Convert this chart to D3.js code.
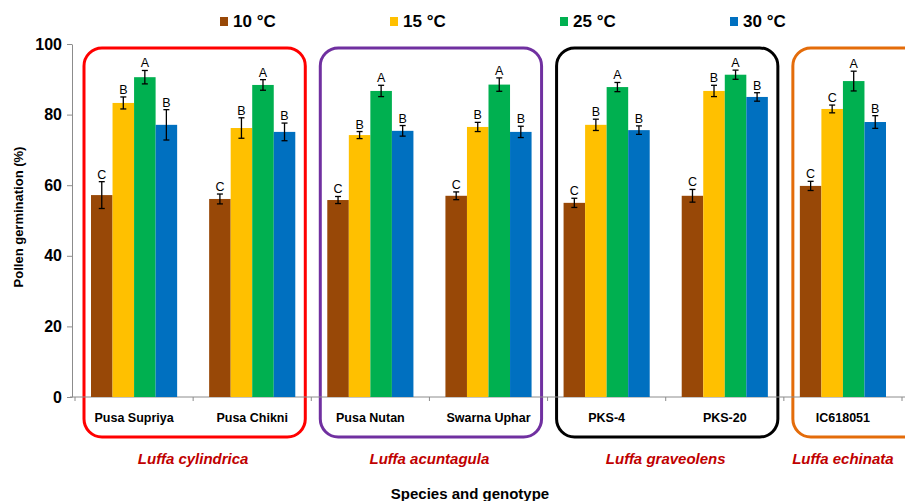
<!DOCTYPE html>
<html>
<head>
<meta charset="utf-8">
<script src="https://cdn.jsdelivr.net/npm/d3@7"></script>
<style>
	body { margin: 0; background: #fff; }
	svg { display: block; font-family: "Liberation Sans", Arial, sans-serif; }
	.axis path, .axis line { stroke: #8c8c8c; }
</style>
</head>
<body>
<div id="chart"></div>
<script>
// Data
const genotypes = ["Pusa Supriya", "Pusa Chikni", "Pusa Nutan", "Swarna Uphar", "PKS-4", "PKS-20", "IC618051"];
const temps = ["10 °C", "15 °C", "25 °C", "30 °C"];
const colors = ["#984807", "#FFC000", "#00B050", "#0070C0"];

// germination (%) per temperature, in genotype order
const mean10 = [57.2, 56.1, 55.8, 57.0, 55.0, 57.0, 59.8];
const mean15 = [83.3, 76.2, 74.2, 76.5, 77.1, 86.7, 81.6];
const mean25 = [90.6, 88.4, 86.7, 88.5, 87.8, 91.3, 89.5];
const mean30 = [77.1, 75.1, 75.4, 75.1, 75.6, 85.0, 77.9];

const err10 = [3.8, 1.4, 1.0, 1.1, 1.3, 1.8, 1.3];
const err15 = [1.7, 2.9, 1.0, 1.3, 1.6, 1.6, 1.1];
const err25 = [1.9, 1.5, 1.6, 1.9, 1.3, 1.3, 2.8];
const err30 = [4.3, 2.5, 1.5, 1.6, 1.2, 1.2, 1.8];

const letters10 = ["C", "C", "C", "C", "C", "C", "C"];
const letters15 = ["B", "B", "B", "B", "B", "B", "C"];
const letters25 = ["A", "A", "A", "A", "A", "A", "A"];
const letters30 = ["B", "B", "B", "B", "B", "B", "B"];

const species = ["Luffa cylindrica", "Luffa acuntagula", "Luffa graveolens", "Luffa echinata"];
const speciesMembers = [["Pusa Supriya", "Pusa Chikni"], ["Pusa Nutan", "Swarna Uphar"], ["PKS-4", "PKS-20"], ["IC618051"]];
const speciesColors = ["#FF0000", "#7030A0", "#000000", "#E46C0A"];

const yTicks = [0, 20, 40, 60, 80, 100];

const means = [mean10, mean15, mean25, mean30];
const errs = [err10, err15, err25, err30];
const letters = [letters10, letters15, letters25, letters30];

let rows = [];
genotypes.forEach((g, gi) => {
	temps.forEach((t, ti) => {
		rows.push({ genotype: g, temp: t, ti: ti, value: means[ti][gi], err: errs[ti][gi], letter: letters[ti][gi] });
	});
});

const width = 905, height = 501;
const margin = { top: 44, right: 3, bottom: 104, left: 75 };

const svg = d3.select("#chart").append("svg")
	.attr("width", width)
	.attr("height", height);

// Scales
const x0 = d3.scaleBand()
	.domain(genotypes)
	.range([margin.left, width - margin.right])
	.padding(0);

const barPad = 16;
const x1 = d3.scaleBand()
	.domain(temps)
	.range([barPad, x0.bandwidth() - barPad])
	.padding(0);

const y = d3.scaleLinear()
	.domain([0, 100])
	.range([height - margin.bottom, margin.top]);

const color = d3.scaleOrdinal().domain(temps).range(colors);

// Species boxes (drawn first, behind the bars)
species.forEach((s, si) => {
	let members = speciesMembers[si];
	let left = x0(members[0]) + 9;
	let right = si === species.length - 1 ? width + 20 : x0(members[members.length - 1]) + x0.bandwidth() - 6;
	svg.append("rect")
		.attr("x", left)
		.attr("y", 48)
		.attr("width", right - left)
		.attr("height", 389)
		.attr("rx", 18)
		.attr("fill", "none")
		.attr("stroke", speciesColors[si])
		.attr("stroke-width", 3);

	let center = d3.mean(members, m => x0(m) + x0.bandwidth() / 2);
	svg.append("text")
		.attr("x", center)
		.attr("y", 464)
		.attr("text-anchor", "middle")
		.attr("font-size", 15)
		.attr("font-weight", "bold")
		.attr("font-style", "italic")
		.attr("fill", "#C00000")
		.text(s);
});

// Axes
const yAxis = d3.axisLeft(y).tickValues(yTicks).tickSize(5).tickSizeOuter(0);
svg.append("g")
	.attr("class", "axis y-axis")
	.attr("transform", "translate(72,0)")
	.call(yAxis)
	.call(g => g.selectAll("text")
		.attr("font-size", 16)
		.attr("font-weight", "bold")
		.attr("fill", "#000")
		.attr("x", -10)
		.style("font-family", "Liberation Sans, Arial, sans-serif"));

// x axis line with ticks at category boundaries
const xg = svg.append("g").attr("class", "axis x-axis");
xg.append("line")
	.attr("x1", 70).attr("x2", width)
	.attr("y1", y(0)).attr("y2", y(0));
xg.selectAll(".xtick")
	.data(genotypes.concat(["end"]))
	.join("line")
	.attr("class", "xtick")
	.attr("x1", (d, i) => i < genotypes.length ? x0(d) : x0(genotypes[i - 1]) + x0.bandwidth())
	.attr("x2", (d, i) => i < genotypes.length ? x0(d) : x0(genotypes[i - 1]) + x0.bandwidth())
	.attr("y1", y(0))
	.attr("y2", y(0) + 4);

// Bars
const groups = svg.selectAll(".group")
	.data(genotypes)
	.join("g")
	.attr("class", "group")
	.attr("transform", d => "translate(" + x0(d) + ",0)");

groups.selectAll("rect")
	.data(g => rows.filter(r => r.genotype === g))
	.join("rect")
	.attr("x", d => x1(d.temp))
	.attr("y", d => y(d.value))
	.attr("width", x1.bandwidth())
	.attr("height", d => y(0) - y(d.value))
	.attr("fill", d => color(d.temp));

// Error bars
const eb = groups.selectAll(".err")
	.data(g => rows.filter(r => r.genotype === g))
	.join("g")
	.attr("class", "err")
	.attr("stroke", "#000")
	.attr("stroke-width", 1.3);

eb.append("line")
	.attr("x1", d => x1(d.temp) + x1.bandwidth() / 2)
	.attr("x2", d => x1(d.temp) + x1.bandwidth() / 2)
	.attr("y1", d => y(d.value + d.err))
	.attr("y2", d => y(d.value - d.err));
eb.append("line")
	.attr("x1", d => x1(d.temp) + x1.bandwidth() / 2 - 3)
	.attr("x2", d => x1(d.temp) + x1.bandwidth() / 2 + 3)
	.attr("y1", d => y(d.value + d.err))
	.attr("y2", d => y(d.value + d.err));
eb.append("line")
	.attr("x1", d => x1(d.temp) + x1.bandwidth() / 2 - 3)
	.attr("x2", d => x1(d.temp) + x1.bandwidth() / 2 + 3)
	.attr("y1", d => y(d.value - d.err))
	.attr("y2", d => y(d.value - d.err));

// Significance letters
groups.selectAll(".letter")
	.data(g => rows.filter(r => r.genotype === g))
	.join("text")
	.attr("class", "letter")
	.attr("x", d => x1(d.temp) + x1.bandwidth() / 2)
	.attr("y", d => y(d.value + d.err) - 3)
	.attr("text-anchor", "middle")
	.attr("font-size", 12.5)
	.attr("fill", "#000")
	.text(d => d.letter);

// Genotype labels
svg.selectAll(".glabel")
	.data(genotypes)
	.join("text")
	.attr("class", "glabel")
	.attr("x", d => x0(d) + x0.bandwidth() / 2)
	.attr("y", 422)
	.attr("text-anchor", "middle")
	.attr("font-size", 12.5)
	.attr("font-weight", "bold")
	.text(d => d);

// Axis titles
svg.append("text")
	.attr("transform", "translate(23,217) rotate(-90)")
	.attr("text-anchor", "middle")
	.attr("font-size", 13)
	.attr("font-weight", "bold")
	.text("Pollen germination (%)");

svg.append("text")
	.attr("x", 470)
	.attr("y", 499)
	.attr("text-anchor", "middle")
	.attr("font-size", 15)
	.attr("font-weight", "bold")
	.text("Species and genotype");

// Legend
const legend = svg.selectAll(".legend")
	.data(temps)
	.join("g")
	.attr("class", "legend")
	.attr("transform", (d, i) => "translate(" + (220 + i * 170) + ",0)");

legend.append("rect")
	.attr("x", 0)
	.attr("y", 17)
	.attr("width", 8)
	.attr("height", 9)
	.attr("fill", d => color(d));

legend.append("text")
	.attr("x", 13)
	.attr("y", 27)
	.attr("font-size", 17)
	.attr("font-weight", "bold")
	.text(d => d);
</script>
</body>
</html>
